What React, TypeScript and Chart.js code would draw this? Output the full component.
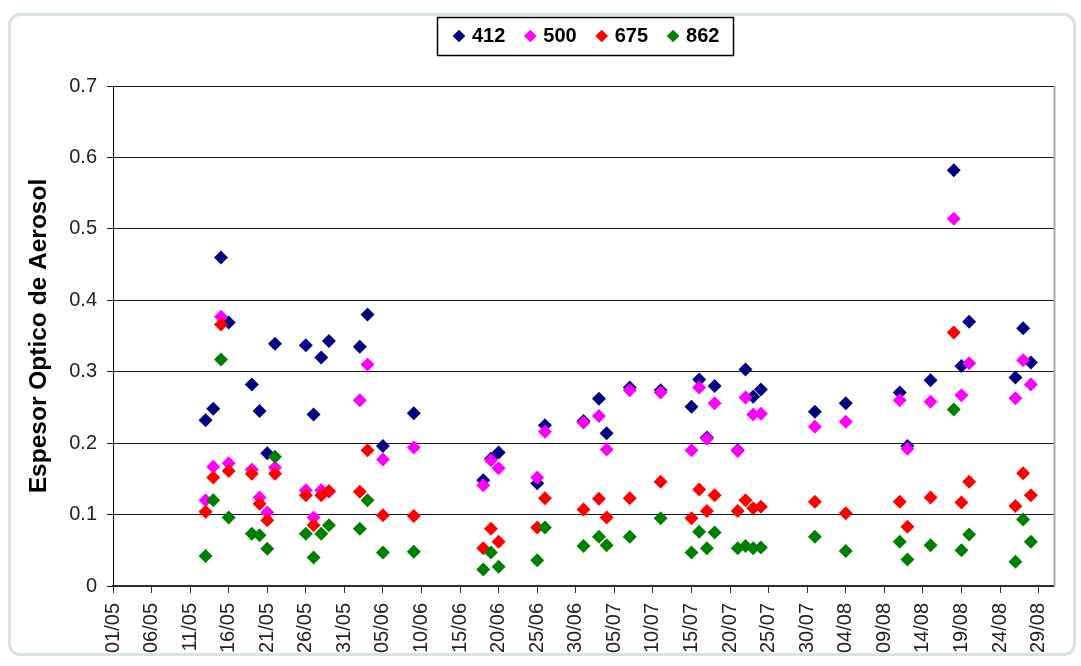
import React, { useEffect, useRef } from "react";
import { Chart, registerables } from "chart.js";

Chart.register(...registerables);

// ---- data ----
const dates = [
  "13/05", "14/05", "15/05", "16/05", "19/05", "20/05", "21/05", "22/05",
  "26/05", "27/05", "28/05", "29/05", "02/06", "03/06", "05/06", "09/06",
  "18/06", "19/06", "20/06", "25/06", "26/06", "01/07", "03/07", "04/07",
  "07/07", "11/07", "15/07", "16/07", "17/07", "18/07", "21/07", "22/07",
  "23/07", "24/07", "31/07", "04/08", "11/08", "12/08", "15/08", "18/08",
  "19/08", "20/08", "26/08", "27/08", "28/08",
];

const aod412 = [
  0.232, 0.248, 0.46, 0.369, 0.282, 0.245, 0.186, 0.339,
  0.337, 0.24, 0.32, 0.343, 0.335, 0.38, 0.196, 0.242,
  0.148, 0.178, 0.187, 0.144, 0.225, 0.231, 0.262, 0.214,
  0.278, 0.274, 0.251, 0.289, 0.208, 0.28, 0.19, 0.303,
  0.265, 0.275, 0.244, 0.256, 0.271, 0.196, 0.288, 0.582,
  0.308, 0.37, 0.292, 0.361, 0.313,
];

const aod500 = [
  0.12, 0.167, 0.377, 0.172, 0.163, 0.124, 0.103, 0.166,
  0.134, 0.096, 0.134, 0.132, 0.26, 0.31, 0.177, 0.194,
  0.141, 0.176, 0.165, 0.152, 0.216, 0.229, 0.238, 0.191,
  0.274, 0.271, 0.19, 0.278, 0.206, 0.256, 0.189, 0.264,
  0.24, 0.241, 0.223, 0.23, 0.26, 0.192, 0.258, 0.514,
  0.267, 0.312, 0.263, 0.316, 0.282,
];

const aod675 = [
  0.104, 0.152, 0.366, 0.161, 0.157, 0.115, 0.092, 0.157,
  0.127, 0.085, 0.127, 0.133, 0.132, 0.19, 0.099, 0.098,
  0.053, 0.08, 0.062, 0.082, 0.123, 0.107, 0.122, 0.096,
  0.123, 0.146, 0.095, 0.135, 0.105, 0.127, 0.105, 0.12,
  0.109, 0.111, 0.118, 0.102, 0.118, 0.083, 0.124, 0.355,
  0.117, 0.146, 0.112, 0.158, 0.127,
];

const aod862 = [
  0.042, 0.12, 0.317, 0.096, 0.073, 0.071, 0.052, 0.181,
  0.073, 0.04, 0.073, 0.085, 0.08, 0.12, 0.047, 0.048,
  0.023, 0.047, 0.027, 0.036, 0.082, 0.056, 0.069, 0.057,
  0.069, 0.095, 0.047, 0.076, 0.053, 0.075, 0.053, 0.056,
  0.053, 0.054, 0.069, 0.049, 0.062, 0.037, 0.057, 0.247,
  0.05, 0.072, 0.034, 0.093, 0.062,
];

const seriesNames = ["412", "500", "675", "862"];
const seriesColors = ["#000080", "#FF00FF", "#FF0000", "#008000"];

const xTickLabels = [
  "01/05", "06/05", "11/05", "16/05", "21/05", "26/05", "31/05", "05/06",
  "10/06", "15/06", "20/06", "25/06", "30/06", "05/07", "10/07", "15/07",
  "20/07", "25/07", "30/07", "04/08", "09/08", "14/08", "19/08", "24/08",
  "29/08",
];
const xStart = "01/05";
const xEnd = "31/08";
const yTicks = [0, 0.1, 0.2, 0.3, 0.4, 0.5, 0.6, 0.7];

const yTitle = "Espesor Optico de Aerosol";
const FONT = '"Liberation Sans", Arial, Helvetica, sans-serif';

function dayOf(label: string): number {
  const [d, m] = label.split("/").map(Number);
  const [d0, m0] = xStart.split("/").map(Number);
  return Math.round((Date.UTC(2000, m - 1, d) - Date.UTC(2000, m0 - 1, d0)) / 86400000);
}

const legendBoxPlugin = {
  id: "legendBox",
  beforeDraw(chart: any) {
    const lg = chart.legend;
    if (!lg || !lg.legendHitBoxes || !lg.legendHitBoxes.length) return;
    const dx = 456 - lg.legendHitBoxes[0].left;
    if (Math.abs(dx) > 0.5) {
      lg.left += dx;
      lg.right += dx;
      lg.legendHitBoxes.forEach((h: any) => (h.left += dx));
    }
  },
  afterDraw(chart: any) {
    const { ctx, chartArea } = chart;
    // right plot-area border
    ctx.save();
    ctx.strokeStyle = "#a6a6a6";
    ctx.lineWidth = 2;
    ctx.beginPath();
    ctx.moveTo(chartArea.right + 0.5, chartArea.top);
    ctx.lineTo(chartArea.right + 0.5, chartArea.bottom);
    ctx.stroke();
    // legend frame
    const lg = chart.legend;
    if (lg && lg.legendHitBoxes && lg.legendHitBoxes.length) {
      const hb = lg.legendHitBoxes;
      const first = hb[0];
      const last = hb[hb.length - 1];
      const l = Math.round(first.left - 19) + 0.5;
      const r = Math.round(last.left + last.width + 14) + 0.5;
      const t = Math.round(first.top - 9) + 0.5;
      const b = Math.round(first.top + first.height + 9) + 0.5;
      ctx.strokeStyle = "#000";
      ctx.lineWidth = 1.5;
      ctx.strokeRect(l, t, r - l, b - t);
    }
    ctx.restore();
  },
};

export default function App() {
  const ref = useRef<HTMLCanvasElement | null>(null);

  useEffect(() => {
    if (!ref.current) return;
    const series = [aod412, aod500, aod675, aod862];
    const labelMap = new Map<number, string>();
    xTickLabels.forEach((l) => labelMap.set(dayOf(l), l));

    const chart = new Chart(ref.current, {
      type: "scatter",
      data: {
        datasets: series.map((vals, i) => ({
          label: seriesNames[i],
          data: dates.map((d, j) => ({ x: dayOf(d), y: vals[j] })),
          backgroundColor: seriesColors[i],
          borderColor: seriesColors[i],
          pointStyle: "rectRot",
          pointRadius: 7,
          pointBorderWidth: 0,
          borderWidth: 0,
          order: series.length - i,
        })),
      },
      options: {
        responsive: false,
        animation: false,
        events: [],
        layout: { padding: { left: 20, right: 27, top: 4, bottom: 0 } },
        plugins: {
          tooltip: { enabled: false },
          legend: {
            display: true,
            position: "top",
            align: "center",
            labels: {
              usePointStyle: true,
              boxWidth: 6,
              boxHeight: 9,
              padding: 22,
              color: "#000",
              font: { family: FONT, size: 20, weight: "bold" },
              sort: (a: any, b: any) => a.datasetIndex - b.datasetIndex,
            },
          },
          title: {
            display: true,
            text: "",
            position: "top",
            weight: 10,
            padding: { top: 0, bottom: 18 },
            font: { family: FONT, size: 10 },
          },
        },
        scales: {
          x: {
            type: "linear",
            min: dayOf(xStart),
            max: dayOf(xEnd),
            afterBuildTicks: (scale: any) => {
              scale.ticks = xTickLabels.map((l) => ({ value: dayOf(l) }));
            },
            afterFit: (scale: any) => {
              scale.height = 80;
            },
            grid: {
              drawOnChartArea: false,
              drawTicks: true,
              tickLength: 7,
              color: "#333",
              lineWidth: 1,
            },
            border: { display: true, color: "#333", width: 1.5 },
            ticks: {
              autoSkip: false,
              maxRotation: 90,
              minRotation: 90,
              padding: 10,
              color: "#222",
              font: { family: FONT, size: 20 },
              callback: (v: any) => labelMap.get(Math.round(Number(v))) ?? "",
            },
          },
          y: {
            type: "linear",
            min: yTicks[0],
            max: yTicks[yTicks.length - 1],
            afterBuildTicks: (scale: any) => {
              scale.ticks = yTicks.map((v) => ({ value: v }));
            },
            afterFit: (scale: any) => {
              scale.width = 93;
            },
            grid: {
              color: "#1a1a1a",
              lineWidth: 1,
              drawTicks: true,
              tickLength: 6,
            },
            border: { display: true, color: "#000", width: 1 },
            ticks: {
              padding: 10,
              color: "#222",
              font: { family: FONT, size: 20 },
              callback: (v: any) => String(Math.round(Number(v) * 10) / 10),
            },
            title: {
              display: true,
              text: yTitle,
              color: "#000",
              padding: { top: 5, bottom: 0 },
              font: { family: FONT, size: 24.5, weight: "bold" },
            },
          },
        },
      },
      plugins: [legendBoxPlugin],
    } as any);

    return () => chart.destroy();
  }, []);

  return (
    <div style={{ position: "fixed", left: 0, top: 0, width: 1081, height: 666, background: "#fff" }}>
      <div
        style={{
          position: "absolute",
          left: 8,
          top: 13,
          width: 1068,
          height: 643,
          border: "3px solid #d8e3e3",
          borderRadius: 12,
          boxSizing: "border-box",
        }}
      />
      <canvas
        ref={ref}
        width={1081}
        height={666}
        style={{ position: "absolute", left: 0, top: 0, width: 1081, height: 666 }}
      />
    </div>
  );
}
